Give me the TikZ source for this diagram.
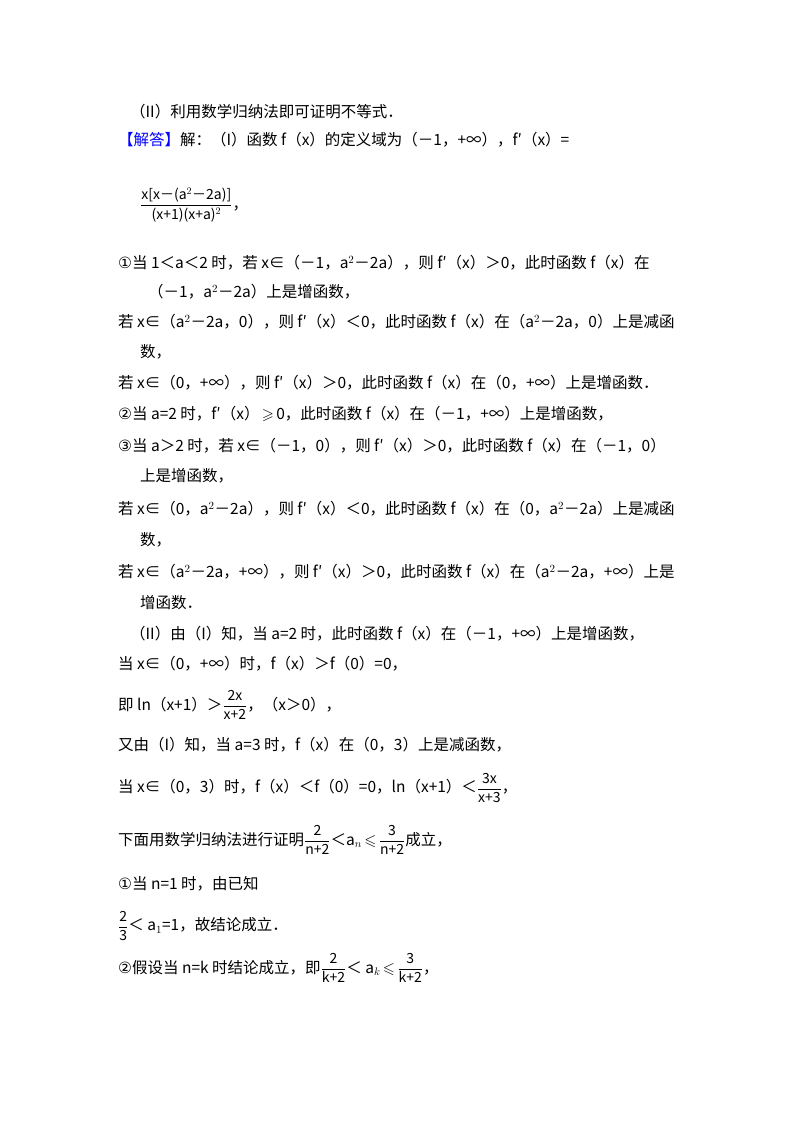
\documentclass[tikz,border=0pt]{standalone}
\usepackage{amssymb}
\usepackage{fontspec}
\setmainfont{Noto Sans CJK SC}
\newfontfamily\djv{DejaVu Sans}
\tikzset{ln/.style={anchor=west,inner sep=0pt,font=\fontsize{15.5}{18}\selectfont}}
\newcommand{\fr}[2]{$\displaystyle\frac{\hbox{\fontsize{14}{15}\selectfont #1}}{\hbox{\fontsize{14}{15}\selectfont #2}}$}
\newcommand{\lesq}{$\,\leqslant\,$}
\newcommand{\gesq}{$\,\geqslant\,$}
\begin{document}
\begin{tikzpicture}[x=1pt,y=-1pt]
\useasboundingbox (0,0) rectangle (800,1132);
\fill[white] (0,0) rectangle (800,1132);
\node[ln] (l1) at (130,112) {（II）利用数学归纳法即可证明不等式．};
\node[ln] (l2) at (118,140) {\textcolor{blue}{【解答】}解：（I）函数 f（x）的定义域为（－1，+∞），f′（x）=};
\node[ln] (l3) at (140,205) {\fr{x[x－(a$^2$－2a)]}{(x+1)(x+a)$^2$}，};
\node[ln] (l4) at (118,263) {{\djv ①}当 1＜a＜2 时，若 x∈（－1，a$^2$－2a），则 f′（x）＞0，此时函数 f（x）在};
\node[ln] (l5) at (148,292) {（－1，a$^2$－2a）上是增函数，};
\node[ln] (l6) at (118,322) {若 x∈（a$^2$－2a，0），则 f′（x）＜0，此时函数 f（x）在（a$^2$－2a，0）上是减函};
\node[ln] (l7) at (140,352) {数，};
\node[ln] (l8) at (118,383) {若 x∈（0，+∞），则 f′（x）＞0，此时函数 f（x）在（0，+∞）上是增函数．};
\node[ln] (l9) at (118,414) {{\djv ②}当 a=2 时，f′（x）\gesq 0，此时函数 f（x）在（－1，+∞）上是增函数，};
\node[ln] (l10) at (118,446) {{\djv ③}当 a＞2 时，若 x∈（－1，0），则 f′（x）＞0，此时函数 f（x）在（－1，0）};
\node[ln] (l11) at (140,476) {上是增函数，};
\node[ln] (l12) at (118,509) {若 x∈（0，a$^2$－2a），则 f′（x）＜0，此时函数 f（x）在（0，a$^2$－2a）上是减函};
\node[ln] (l13) at (140,540) {数，};
\node[ln] (l14) at (118,572) {若 x∈（a$^2$－2a，+∞），则 f′（x）＞0，此时函数 f（x）在（a$^2$－2a，+∞）上是};
\node[ln] (l15) at (140,603) {增函数．};
\node[ln] (l16) at (130,634) {（II）由（I）知，当 a=2 时，此时函数 f（x）在（－1，+∞）上是增函数，};
\node[ln] (l17) at (118,664) {当 x∈（0，+∞）时，f（x）＞f（0）=0，};
\node[ln] (l18) at (118,705) {即 ln（x+1）＞\fr{2x}{x+2}，（x＞0），};
\node[ln] (l19) at (118,745) {又由（I）知，当 a=3 时，f（x）在（0，3）上是减函数，};
\node[ln] (l20) at (118,788) {当 x∈（0，3）时，f（x）＜f（0）=0，ln（x+1）＜\fr{3x}{x+3}，};
\node[ln] (l21) at (118,840) {下面用数学归纳法进行证明\fr{2}{n+2}＜a$_n$\lesq\fr{3}{n+2}成立，};
\node[ln] (l22) at (118,884) {{\djv ①}当 n=1 时，由已知};
\node[ln] (l23) at (118,926) {\fr{2}{3}＜ a$_1$=1，故结论成立．};
\node[ln] (l24) at (118,968) {{\djv ②}假设当 n=k 时结论成立，即\fr{2}{k+2}＜ a$_k$\lesq\fr{3}{k+2}，};
\end{tikzpicture}
\end{document}
